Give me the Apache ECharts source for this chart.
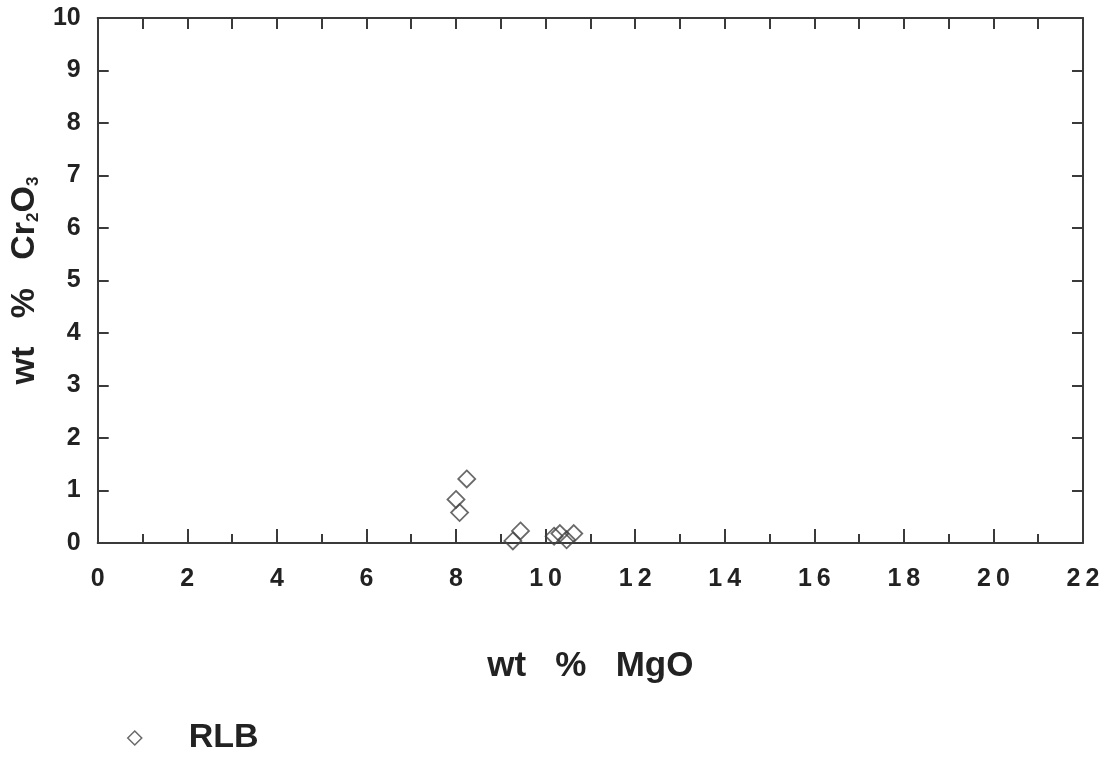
<!DOCTYPE html>
<html><head><meta charset="utf-8">
<script src="https://cdn.jsdelivr.net/npm/echarts@6/dist/echarts.min.js"></script>
<style>html,body{margin:0;padding:0;background:#fff}#c{width:1107px;height:758px}</style>
</head><body><div id="c"></div>
<script>
const mgo = [8.24, 8.0, 8.08, 9.44, 9.27, 10.19, 10.32, 10.47, 10.63];
const cr2o3 = [1.22, 0.83, 0.58, 0.23, 0.04, 0.13, 0.18, 0.06, 0.18];
const seriesName = 'RLB';
const xTicks = [0,2,4,6,8,10,12,14,16,18,20,22];
const yTicks = [0,1,2,3,4,5,6,7,8,9,10];

const font = '"Liberation Sans", Arial, sans-serif';
const col = '#3a3a3a';
const txt = '#222';
const grid = {left: 97, right: 1107 - 1083, top: 18, bottom: 758 - 543};
const chart = echarts.init(document.getElementById('c'));
const axisLine = {show: true, onZero: false, lineStyle: {color: col, width: 2}};
chart.setOption({
  animation: false,
  backgroundColor: '#fff',
  grid: grid,
  legend: {
    left: 122, top: 716, itemWidth: 14, itemHeight: 14, itemGap: 40,
    icon: 'diamond',
    data: [{name: seriesName, itemStyle: {color: '#fff', borderColor: '#444', borderWidth: 1.5}}],
    textStyle: {fontFamily: font, fontSize: 34, fontWeight: 'bold', color: txt, padding: [0,0,0,42]}
  },
  xAxis: [{
    type: 'value', min: 0, max: 22, interval: 2, position: 'bottom',
    axisLine: axisLine,
    axisTick: {show: true, inside: true, length: 14, lineStyle: {color: col, width: 2}},
    minorTick: {show: true, splitNumber: 2, length: 9, lineStyle: {color: col, width: 2}},
    splitLine: {show: false},
    axisLabel: {margin: 24, fontFamily: font, fontSize: 25, fontWeight: 'bold', color: txt,
      formatter: v => xTicks.includes(v) ? String(v).split('').join('\u2009') : ''},
    name: 'wt   %   MgO', nameLocation: 'middle', nameGap: 106,
    nameTextStyle: {fontFamily: font, fontSize: 35, fontWeight: 'bold', color: txt}
  }, {
    type: 'value', min: 0, max: 22, interval: 1, position: 'top',
    axisLine: axisLine,
    axisTick: {show: true, inside: true, length: 11, lineStyle: {color: col, width: 2}},
    axisLabel: {show: false}, splitLine: {show: false}
  }],
  yAxis: [{
    type: 'value', min: 0, max: 10, interval: 1, position: 'left',
    axisLine: axisLine,
    axisTick: {show: true, inside: true, length: 11, lineStyle: {color: col, width: 2}},
    splitLine: {show: false},
    axisLabel: {margin: 17, fontFamily: font, fontSize: 25, fontWeight: 'bold', color: txt,
      formatter: v => yTicks.includes(v) ? String(v) : ''},
    name: '{a|wt   %   Cr}{s|2}{a|O}{s|3}', nameLocation: 'middle', nameGap: 46,
    nameTextStyle: {fontFamily: font, fontSize: 34, fontWeight: 'bold', color: txt,
      rich: {a: {fontFamily: font, fontSize: 34, fontWeight: 'bold', color: txt},
             s: {fontFamily: font, fontSize: 17, fontWeight: 'bold', color: txt, verticalAlign: 'bottom', padding: [17,0,0,0]}}}
  }, {
    type: 'value', min: 0, max: 10, interval: 1, position: 'right',
    axisLine: axisLine,
    axisTick: {show: true, inside: true, length: 11, lineStyle: {color: col, width: 2}},
    axisLabel: {show: false}, splitLine: {show: false}
  }],
  series: [{
    name: seriesName, type: 'scatter', symbol: 'diamond', symbolSize: 17,
    xAxisIndex: 0, yAxisIndex: 0,
    itemStyle: {color: 'rgba(255,255,255,0)', borderColor: '#444', borderWidth: 1.8},
    data: mgo.map((x, i) => [x, cr2o3[i]])
  }]
});
</script></body></html>
